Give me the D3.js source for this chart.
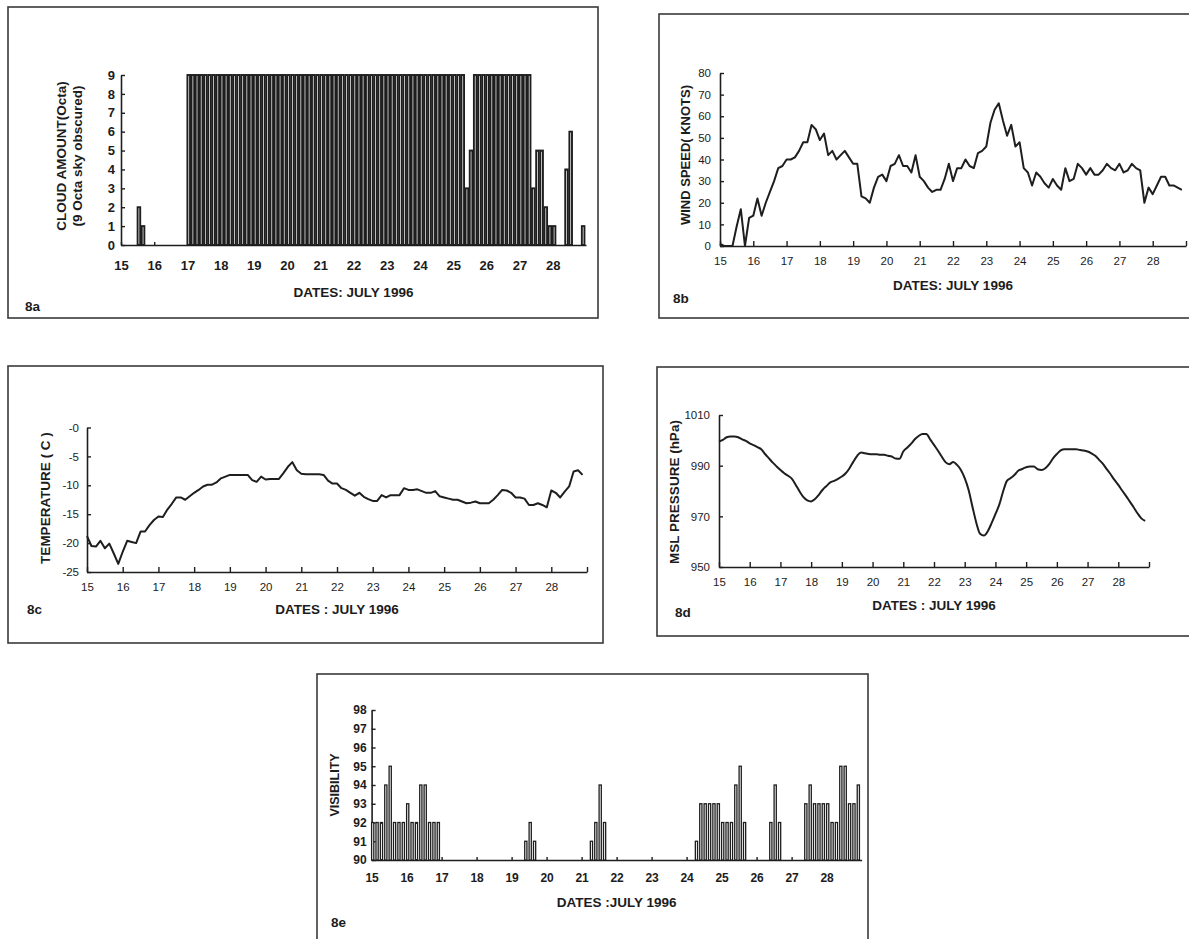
<!DOCTYPE html>
<meta charset="utf-8" />
<script src="https://d3js.org/d3.v7.min.js"></script>
<style>
  body { margin: 0; background: #ffffff; }
  text { font-family: "Liberation Sans", Arial, sans-serif; fill: #1c1c1c; }
</style>
<div id="my_dataviz"></div>

<script>
  // July 1996, one observation every 3 hours (8 per day) from 15 to 28
  const dayTicks = [15, 16, 17, 18, 19, 20, 21, 22, 23, 24, 25, 26, 27, 28];
  const obsPerDay = 8;

  // 8a cloud amount (octa)
  const cloudOcta = [
    0, 0, 0, 0, 2, 1, 0, 0,
    0, 0, 0, 0, 0, 0, 0, 0,
    9, 9, 9, 9, 9, 9, 9, 9,
    9, 9, 9, 9, 9, 9, 9, 9,
    9, 9, 9, 9, 9, 9, 9, 9,
    9, 9, 9, 9, 9, 9, 9, 9,
    9, 9, 9, 9, 9, 9, 9, 9,
    9, 9, 9, 9, 9, 9, 9, 9,
    9, 9, 9, 9, 9, 9, 9, 9,
    9, 9, 9, 9, 9, 9, 9, 9,
    9, 9, 9, 3, 5, 9, 9, 9,
    9, 9, 9, 9, 9, 9, 9, 9,
    9, 9, 9, 3, 5, 5, 2, 1,
    1, 0, 0, 4, 6, 0, 0, 1
  ];

  // 8b wind speed (knots)
  const windKnots = [
    1, 0, 0, 0, 9, 17, 0, 13,
    14, 22, 14, 20, 25, 30, 36, 37,
    40, 40, 41, 44, 48, 48, 56, 54,
    49, 52, 42, 44, 40, 42, 44, 41,
    38, 38, 23, 22, 20, 27, 32, 33,
    30, 37, 38, 42, 37, 37, 34, 42,
    32, 30, 27, 25, 26, 26, 31, 38,
    30, 36, 36, 40, 37, 36, 43, 44,
    46, 57, 63, 66, 58, 51, 56, 46,
    48, 36, 34, 28, 34, 32, 29, 27,
    31, 28, 26, 36, 30, 31, 38, 36,
    33, 36, 33, 33, 35, 38, 36, 35,
    38, 34, 35, 38, 36, 35, 20, 27,
    24, 28, 32, 32, 28, 28, 27, 26
  ];

  // 8c temperature (C)
  const tempC = [
    -18.8, -20.5, -20.6, -19.6, -20.9, -20.1, -21.8, -23.6,
    -21.5, -19.6, -19.8, -20.0, -18.0, -18.0, -16.9, -16.0,
    -15.4, -15.5, -14.2, -13.2, -12.1, -12.1, -12.5, -11.9,
    -11.3, -10.8, -10.2, -9.9, -9.9, -9.5, -8.8, -8.5,
    -8.2, -8.2, -8.2, -8.2, -8.2, -9.1, -9.4, -8.5,
    -9.0, -8.9, -8.9, -8.9, -7.9, -6.8, -6.0, -7.4,
    -8.0, -8.1, -8.1, -8.1, -8.1, -8.2, -9.2, -9.7,
    -9.7, -10.5, -10.8, -11.3, -11.8, -11.3, -12.0, -12.4,
    -12.7, -12.7, -11.7, -12.1, -11.7, -11.7, -11.7, -10.5,
    -10.8, -10.8, -10.7, -11.0, -11.3, -11.3, -11.0, -11.9,
    -12.1, -12.3, -12.5, -12.5, -12.8, -13.1, -13.0, -12.8,
    -13.1, -13.1, -13.1, -12.5, -11.7, -10.8, -10.9, -11.3,
    -12.1, -12.1, -12.3, -13.4, -13.4, -13.1, -13.4, -13.8,
    -10.9, -11.3, -12.1, -11.1, -10.2, -7.6, -7.4, -8.2
  ];

  // 8d MSL pressure (hPa)
  const mslHpa = [
    999.5, 1000.2, 1001.2, 1001.5, 1001.5, 1001.2, 1000.4, 999.8,
    998.8, 998.1, 997.3, 996.5, 994.6, 992.9, 991.2, 989.7,
    988.3, 987.0, 986.0, 984.8, 982.4, 979.8, 977.6, 976.3,
    975.9, 976.8, 978.5, 980.5, 982.0, 983.4, 984.0, 984.8,
    985.7, 987.0, 989.0, 991.6, 993.9, 995.2, 994.9, 994.6,
    994.5, 994.5, 994.3, 994.3, 993.9, 993.6, 992.8, 992.7,
    995.6, 997.1, 998.6, 1000.4, 1001.7, 1002.5, 1002.5, 1000.4,
    998.2, 996.0, 993.6, 991.4, 990.6, 991.4, 990.3, 988.3,
    985.1, 980.5, 973.9, 967.6, 963.1, 962.4, 964.1, 967.3,
    970.9, 974.6, 979.8, 984.0, 985.1, 986.4, 988.1, 988.7,
    989.4, 989.7, 989.7, 988.6, 988.3, 989.0, 990.6, 992.9,
    994.6, 996.0, 996.5, 996.5, 996.5, 996.5, 996.2, 996.0,
    995.6, 994.9, 993.9, 992.3, 990.7, 988.6, 986.6, 984.4,
    982.4, 980.2, 978.1, 975.8, 973.6, 971.2, 969.2, 968.2
  ];

  // 8e visibility code (90 = no bar)
  const visibility = [
    92, 92, 92, 94, 95, 92, 92, 92,
    93, 92, 92, 94, 94, 92, 92, 92,
    90, 90, 90, 90, 90, 90, 90, 90,
    90, 90, 90, 90, 90, 90, 90, 90,
    90, 90, 90, 91, 92, 91, 90, 90,
    90, 90, 90, 90, 90, 90, 90, 90,
    90, 90, 91, 92, 94, 92, 90, 90,
    90, 90, 90, 90, 90, 90, 90, 90,
    90, 90, 90, 90, 90, 90, 90, 90,
    90, 90, 91, 93, 93, 93, 93, 93,
    92, 92, 92, 94, 95, 92, 90, 90,
    90, 90, 90, 92, 94, 92, 90, 90,
    90, 90, 90, 93, 94, 93, 93, 93,
    93, 92, 92, 95, 95, 93, 93, 94
  ];

  const cloudTicks = [0, 1, 2, 3, 4, 5, 6, 7, 8, 9];
  const windTicks = [0, 10, 20, 30, 40, 50, 60, 70, 80];
  const tempTicks = [-25, -20, -15, -10, -5, 0];
  const tempTickLabels = ["-25", "-20", "-15", "-10", "-5", "-0"];
  const pressureTicks = [950, 970, 990, 1010];
  const visTicks = [90, 91, 92, 93, 94, 95, 96, 97, 98];

  const ink = "#1e1e1e";

  const svg = d3
    .select("#my_dataviz")
    .append("svg")
    .attr("width", 1189)
    .attr("height", 939)
    .style("display", "block");

  function obsDate(i) {
    return 15 + i / obsPerDay;
  }

  function drawPanel(p) {
    const g = svg.append("g").attr("class", "panel");

    // scanned page frame
    g.append("rect")
      .attr("x", p.frame[0])
      .attr("y", p.frame[1])
      .attr("width", p.frame[2])
      .attr("height", p.frame[3])
      .attr("fill", "none")
      .attr("stroke", "#3a3a3a")
      .attr("stroke-width", 1.6);

    const x = d3.scaleLinear().domain([15, 29]).range([p.xr[0], p.xr[1]]);
    const y = d3.scaleLinear().domain(p.ydom).range([p.yr[0], p.yr[1]]);

    const xTicks = p.tick29 ? dayTicks.concat([29]) : dayTicks;
    const xAxis = g
      .append("g")
      .attr("transform", "translate(0," + p.yr[0] + ")")
      .call(
        d3
          .axisBottom(x)
          .tickValues(xTicks)
          .tickFormat((d) => (d === 29 ? "" : d))
          .tickSizeInner(-p.xTickLen)
          .tickSizeOuter(0)
          .tickPadding(p.xPad)
      );

    const yAxis = g
      .append("g")
      .attr("transform", "translate(" + p.xr[0] + ",0)")
      .call(
        d3
          .axisLeft(y)
          .tickValues(p.yticks)
          .tickFormat((d, i) => (p.ylabels ? p.ylabels[i] : d))
          .tickSizeInner(-4)
          .tickSizeOuter(0)
          .tickPadding(p.yPad)
      );

    [xAxis, yAxis].forEach(function (a) {
      a.select(".domain").attr("stroke", ink).attr("stroke-width", 1.6);
      a.selectAll(".tick line").attr("stroke", ink).attr("stroke-width", 1.4);
      a.selectAll("text")
        .style("font-size", p.tickSize + "px")
        .style("font-weight", p.tickWeight)
        .attr("fill", "#222");
    });

    if (p.bars) {
      g.append("g")
        .selectAll("rect")
        .data(p.bars.filter((d) => d.v > p.ydom[0]))
        .join("rect")
        .attr("x", (d) => x(obsDate(d.i)))
        .attr("y", (d) => y(d.v))
        .attr("width", p.barW)
        .attr("height", (d) => y(p.ydom[0]) - y(d.v))
        .attr("fill", "#ffffff")
        .attr("stroke", ink)
        .attr("stroke-width", p.barStroke);
    }

    if (p.line) {
      g.append("path")
        .datum(p.line)
        .attr("fill", "none")
        .attr("stroke", ink)
        .attr("stroke-width", 2)
        .attr("stroke-linejoin", "round")
        .attr(
          "d",
          d3
            .line()
            .curve(p.smooth ? d3.curveMonotoneX : d3.curveLinear)
            .x((d) => x(obsDate(d.i)))
            .y((d) => y(d.v))
        );
    }

    // rotated y title(s)
    p.ytitle.forEach(function (t, k) {
      g.append("text")
        .attr("transform", "translate(" + p.ytx[k] + "," + p.yty + ") rotate(-90)")
        .attr("text-anchor", "middle")
        .style("font-size", p.ytSize + "px")
        .style("font-weight", "bold")
        .text(t);
    });

    g.append("text")
      .attr("x", (p.xr[0] + p.xr[1]) / 2)
      .attr("y", p.xtY)
      .attr("text-anchor", "middle")
      .style("font-size", "13.5px")
      .style("font-weight", "bold")
      .text(p.xtitle);

    g.append("text")
      .attr("x", p.tag[0])
      .attr("y", p.tag[1])
      .style("font-size", "13.5px")
      .style("font-weight", "bold")
      .text(p.tagText);
  }

  const asObs = (arr) => arr.map((v, i) => ({ i: i, v: v }));

  // 8a
  drawPanel({
    frame: [8, 7, 590, 311],
    xr: [121, 586],
    yr: [245, 75],
    ydom: [0, 9],
    yticks: cloudTicks,
    xTickLen: 3,
    xPad: 16,
    yPad: 6,
    tickSize: 13,
    tickWeight: "bold",
    bars: asObs(cloudOcta),
    barW: 2.6,
    barStroke: 1.9,
    ytitle: ["CLOUD AMOUNT(Octa)", "(9 Octa sky obscured)"],
    ytx: [66, 82],
    yty: 156,
    ytSize: 13.5,
    xtitle: "DATES: JULY 1996",
    xtY: 297,
    tag: [25, 311],
    tagText: "8a"
  });

  // 8b
  drawPanel({
    frame: [659, 14, 560, 304],
    xr: [720, 1186],
    yr: [246, 73],
    ydom: [0, 80],
    yticks: windTicks,
    tick29: true,
    xTickLen: 5,
    xPad: 11,
    yPad: 9,
    tickSize: 11.5,
    tickWeight: "normal",
    line: asObs(windKnots),
    ytitle: ["WIND SPEED( KNOTS)"],
    ytx: [690],
    yty: 155,
    ytSize: 13,
    xtitle: "DATES: JULY 1996",
    xtY: 290,
    tag: [673, 303],
    tagText: "8b"
  });

  // 8c
  drawPanel({
    frame: [8, 366, 595, 277],
    xr: [87, 587],
    yr: [572, 427.5],
    ydom: [-25, 0],
    yticks: tempTicks,
    ylabels: tempTickLabels,
    tick29: true,
    xTickLen: 5,
    xPad: 11,
    yPad: 8,
    tickSize: 11.5,
    tickWeight: "normal",
    line: asObs(tempC),
    ytitle: ["TEMPERATURE ( C )"],
    ytx: [50],
    yty: 498,
    ytSize: 13.5,
    xtitle: "DATES : JULY 1996",
    xtY: 614,
    tag: [27, 614],
    tagText: "8c"
  });

  // 8d
  drawPanel({
    frame: [657, 367, 560, 269],
    xr: [719, 1149],
    yr: [567, 415],
    ydom: [950, 1010],
    yticks: pressureTicks,
    tick29: true,
    xTickLen: 5,
    xPad: 11,
    yPad: 9,
    tickSize: 11.5,
    tickWeight: "normal",
    line: asObs(mslHpa),
    smooth: true,
    ytitle: ["MSL PRESSURE (hPa)"],
    ytx: [679],
    yty: 492,
    ytSize: 13.5,
    xtitle: "DATES : JULY 1996",
    xtY: 610,
    tag: [675, 617],
    tagText: "8d"
  });

  // 8e
  drawPanel({
    frame: [317, 674, 551, 290],
    xr: [371.6, 861.6],
    yr: [860, 710],
    ydom: [90, 98],
    yticks: visTicks,
    tick29: false,
    xTickLen: 3,
    xPad: 13,
    yPad: 5,
    tickSize: 12,
    tickWeight: "bold",
    bars: asObs(visibility),
    barW: 2.2,
    barStroke: 1.3,
    ytitle: ["VISIBILITY"],
    ytx: [339],
    yty: 785,
    ytSize: 12.5,
    xtitle: "DATES :JULY 1996",
    xtY: 907,
    tag: [331, 927],
    tagText: "8e"
  });
</script>
